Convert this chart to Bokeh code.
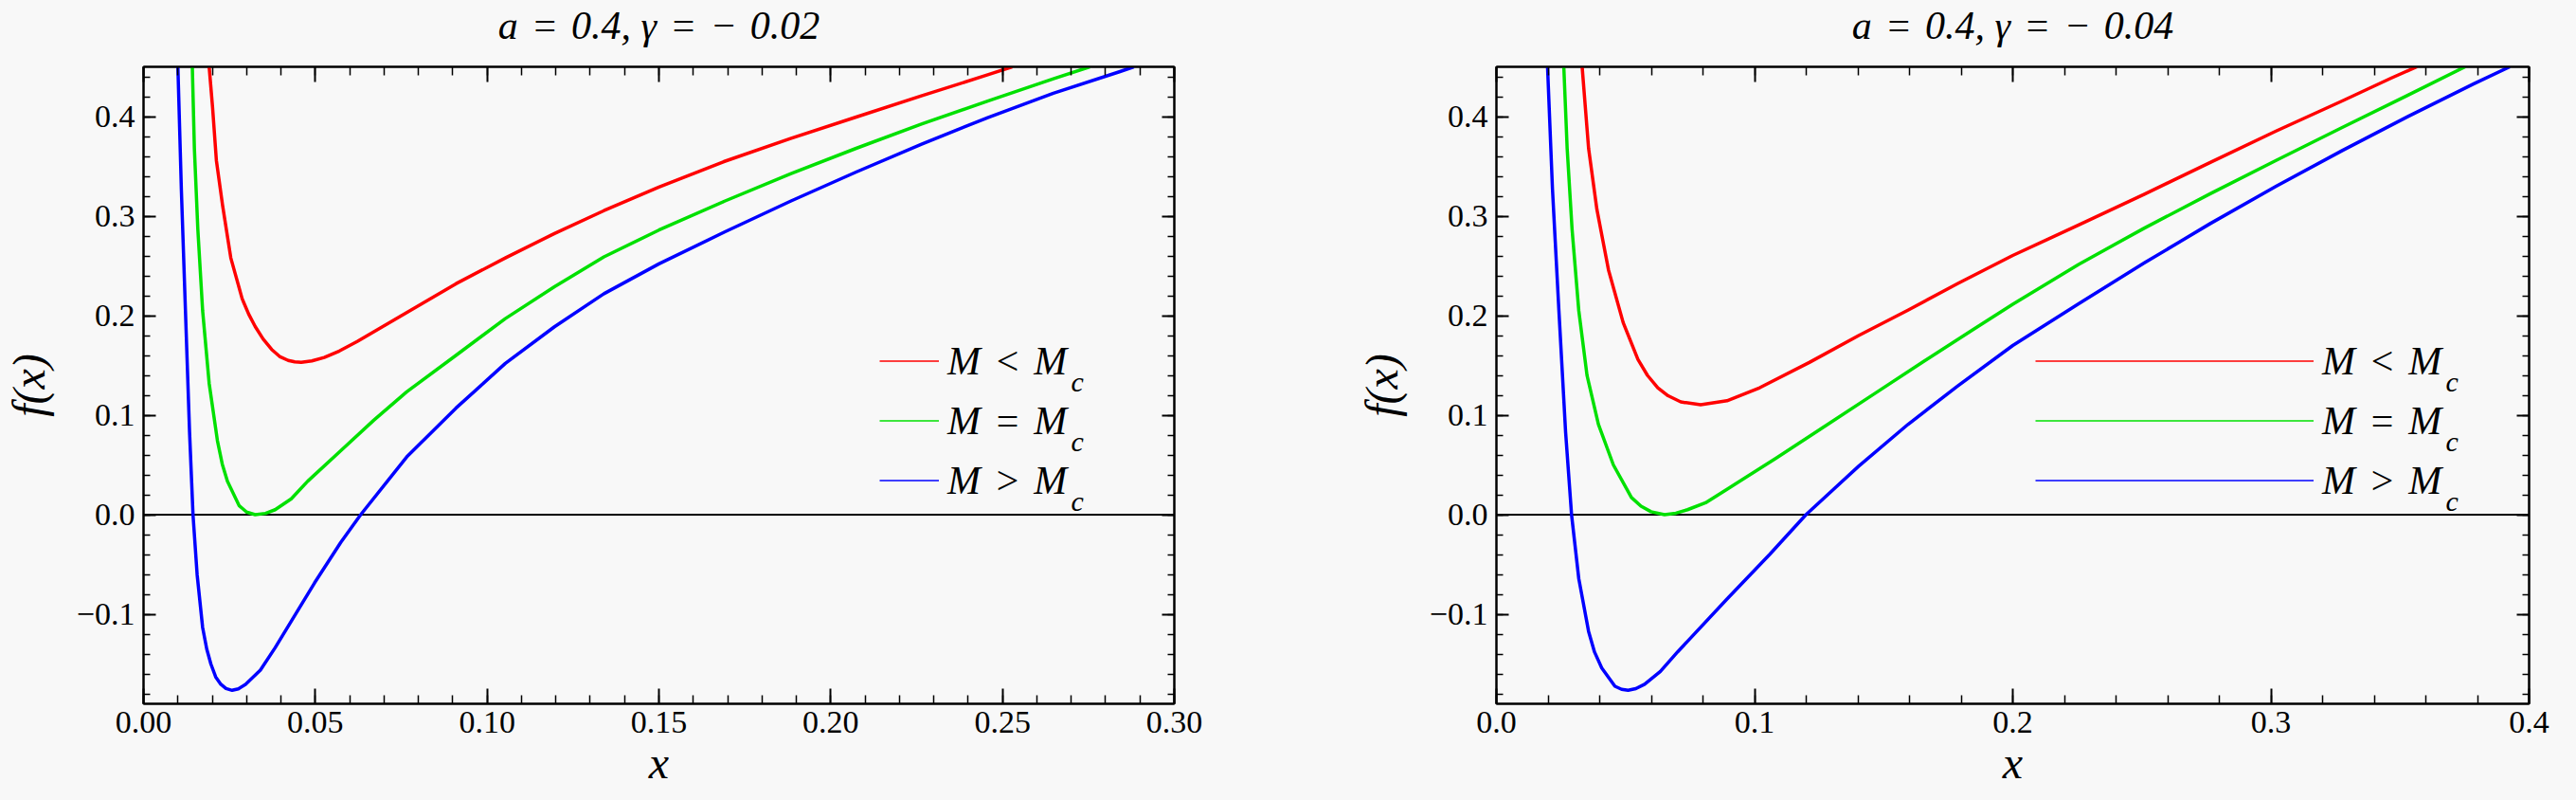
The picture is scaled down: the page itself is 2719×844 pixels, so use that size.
import math
from bokeh.plotting import figure
from bokeh.models import Range1d, FixedTicker, LinearAxis, Span, Label, Legend, LegendItem, PrintfTickFormatter
from bokeh.layouts import row
from bokeh.embed import file_html
from bokeh.resources import INLINE

# ---------------- data ----------------
titles = ["a\u2004=\u20040.4, γ\u2004=\u2004−\u20040.02",
          "a\u2004=\u20040.4, γ\u2004=\u2004−\u20040.04"]
x_axis_title = "x"
y_axis_title = "f(x)"
legend_labels = ["M\u2004<\u2004M", "M\u2004=\u2004M", "M\u2004>\u2004M"]
legend_subscript = "c"
series_colors = ["#ff0000", "#00e000", "#0000ff"]

# left panel: gamma = -0.02
x_red_1 = [0.0191, 0.0201, 0.0212, 0.0230, 0.0254, 0.0287, 0.0306, 0.0325, 0.0348, 0.0373,
           0.0396, 0.0421, 0.0440, 0.0459, 0.0490, 0.0526, 0.0570, 0.0622, 0.0766, 0.0909,
           0.1053, 0.1196, 0.1340, 0.1500, 0.1691, 0.1883, 0.2074, 0.2266, 0.2457, 0.2528]
y_red_1 = [0.450, 0.409, 0.356, 0.311, 0.258, 0.217, 0.2015, 0.189, 0.1765, 0.166,
           0.159, 0.155, 0.1535, 0.153, 0.1545, 0.158, 0.1645, 0.174, 0.203, 0.232,
           0.258, 0.2825, 0.3055, 0.3292, 0.3550, 0.3780, 0.3995, 0.4210, 0.4420, 0.450]
x_green_1 = [0.0142, 0.0148, 0.0158, 0.0172, 0.0191, 0.0215, 0.0229, 0.0244, 0.0278, 0.0300,
             0.0325, 0.0355, 0.0383, 0.0430, 0.0478, 0.0574, 0.0670, 0.0766, 0.0909, 0.1053,
             0.1196, 0.1340, 0.1500, 0.1691, 0.1883, 0.2074, 0.2266, 0.2457, 0.2648, 0.2754]
y_green_1 = [0.450, 0.368, 0.287, 0.205, 0.132, 0.0745, 0.051, 0.0337, 0.0092, 0.0026,
             0.000, 0.0013, 0.005, 0.016, 0.0337, 0.0643, 0.0949, 0.1235, 0.160, 0.197,
             0.229, 0.259, 0.2860, 0.3150, 0.3425, 0.3681, 0.3927, 0.4156, 0.4380, 0.450]
x_blue_1 = [0.0100, 0.0110, 0.0122, 0.0134, 0.0144, 0.0156, 0.0172, 0.0184, 0.0196, 0.0210,
            0.0225, 0.0240, 0.0258, 0.0276, 0.0297, 0.0340, 0.0383, 0.0498, 0.0574, 0.0632,
            0.0766, 0.0909, 0.1053, 0.1196, 0.1340, 0.1500, 0.1691, 0.1883, 0.2074, 0.2266,
            0.2457, 0.2648, 0.2840, 0.2882]
y_blue_1 = [0.450, 0.3276, 0.205, 0.0827, 0.000, -0.0602, -0.1133, -0.135, -0.150, -0.163,
            -0.1704, -0.1747, -0.1765, -0.1750, -0.1704, -0.1562, -0.1337, -0.0684, -0.0278, 0.000,
            0.058, 0.107, 0.152, 0.1888, 0.222, 0.2520, 0.2840, 0.3150, 0.3443, 0.3725,
            0.3990, 0.4235, 0.4450, 0.450]

# right panel: gamma = -0.04
x_red_2 = [0.0332, 0.0357, 0.0389, 0.0434, 0.0491, 0.0548, 0.0585, 0.0625, 0.0665, 0.0714,
           0.0791, 0.0893, 0.1020, 0.1212, 0.1403, 0.1594, 0.1786, 0.2000, 0.2255, 0.2510,
           0.2765, 0.3020, 0.3276, 0.3467, 0.3565]
y_red_2 = [0.450, 0.368, 0.307, 0.246, 0.193, 0.156, 0.140, 0.1276, 0.1195, 0.1133,
           0.1104, 0.1145, 0.1276, 0.153, 0.180, 0.2055, 0.2322, 0.2605, 0.2910, 0.3220,
           0.3540, 0.3855, 0.4157, 0.4388, 0.450]
x_green_2 = [0.0261, 0.0274, 0.0293, 0.0319, 0.0351, 0.0395, 0.0453, 0.0523, 0.0560, 0.0599,
             0.0651, 0.0695, 0.0740, 0.0810, 0.0893, 0.1084, 0.1276, 0.1467, 0.1658, 0.1849,
             0.2000, 0.2255, 0.2510, 0.2765, 0.3020, 0.3276, 0.3531, 0.3752]
y_green_2 = [0.450, 0.368, 0.2867, 0.205, 0.1398, 0.0908, 0.050, 0.0173, 0.0085, 0.003,
             0.000, 0.0015, 0.005, 0.012, 0.0255, 0.0570, 0.0895, 0.1220, 0.1545, 0.1865,
             0.2115, 0.2515, 0.2880, 0.3225, 0.3560, 0.3890, 0.4215, 0.450]
x_blue_2 = [0.0198, 0.0217, 0.0242, 0.0268, 0.0291, 0.0319, 0.0357, 0.0380, 0.0408, 0.0459,
            0.0485, 0.0510, 0.0540, 0.0574, 0.0635, 0.0702, 0.0893, 0.1059, 0.1199, 0.1403,
            0.1594, 0.1786, 0.2000, 0.2255, 0.2510, 0.2765, 0.3020, 0.3276, 0.3531, 0.3786,
            0.3925]
y_blue_2 = [0.450, 0.3276, 0.205, 0.0827, 0.000, -0.0643, -0.1173, -0.138, -0.154, -0.1724,
            -0.1755, -0.1765, -0.1748, -0.1704, -0.1575, -0.1378, -0.0847, -0.0398, 0.000, 0.0487,
            0.0907, 0.1291, 0.1700, 0.2120, 0.2530, 0.2925, 0.3300, 0.3658, 0.4001, 0.4330,
            0.450]

# axes
y_limits = (-0.19, 0.45)
y_major_ticks = [-0.1, 0.0, 0.1, 0.2, 0.3, 0.4]
y_tick_labels = ["−0.1", "0.0", "0.1", "0.2", "0.3", "0.4"]
y_minor_step = 0.02

x_limits_1 = (0.0, 0.30)
x_major_ticks_1 = [0.00, 0.05, 0.10, 0.15, 0.20, 0.25, 0.30]
x_tick_labels_1 = ["0.00", "0.05", "0.10", "0.15", "0.20", "0.25", "0.30"]
x_minor_step_1 = 0.01

x_limits_2 = (0.0, 0.40)
x_major_ticks_2 = [0.0, 0.1, 0.2, 0.3, 0.4]
x_tick_labels_2 = ["0.0", "0.1", "0.2", "0.3", "0.4"]
x_minor_step_2 = 0.02

# ---------------- styling ----------------
BG = "#f8f8f8"
FONT = "Liberation Serif"
FIG_H = 844


def minor_list(lo, hi, step):
    n0 = math.ceil(lo / step - 1e-9)
    n1 = math.floor(hi / step + 1e-9)
    return [round(i * step, 6) for i in range(n0, n1 + 1)]


def style_axis(ax, ticks, minors, labels, tick_in, minor_in, show_labels, standoff):
    ax.ticker = FixedTicker(ticks=ticks, minor_ticks=minors)
    ax.formatter = PrintfTickFormatter(format="%.2f")
    ax.axis_line_color = "black"
    ax.axis_line_width = 2
    ax.major_tick_line_color = "black"
    ax.major_tick_line_width = 2
    ax.minor_tick_line_color = "black"
    ax.minor_tick_line_width = 1.5
    ax.major_tick_in = tick_in
    ax.major_tick_out = 0
    ax.minor_tick_in = minor_in
    ax.minor_tick_out = 0
    ax.major_label_text_font = FONT
    if show_labels:
        ax.major_label_overrides = {t: l for t, l in zip(ticks, labels)}
        ax.major_label_text_color = "black"
        ax.major_label_text_font_size = "34px"
        ax.major_label_standoff = standoff
    else:
        ax.major_label_text_color = None
        ax.major_label_text_font_size = "0px"
        ax.major_label_standoff = 0


def axis_title(ax, text, size, standoff):
    ax.axis_label = text
    ax.axis_label_text_font = FONT
    ax.axis_label_text_font_style = "italic"
    ax.axis_label_text_font_size = size
    ax.axis_label_text_color = "black"
    ax.axis_label_standoff = standoff


def make_panel(title, xlim, xt, xl, xstep, series, width, left, right, legend_x, glyph_w, sub_dx):
    p = figure(width=width, height=FIG_H, x_range=Range1d(*xlim), y_range=Range1d(*y_limits),
               output_backend="svg", toolbar_location=None, title=None,
               min_border_left=left, min_border_right=right, min_border_top=69,
               min_border_bottom=FIG_H - 742,
               background_fill_color=BG, border_fill_color=BG,
               outline_line_color="black", outline_line_width=2)
    p.xgrid.grid_line_color = None
    p.ygrid.grid_line_color = None

    xminor = minor_list(xlim[0], xlim[1], xstep)
    yminor = minor_list(y_limits[0], y_limits[1], y_minor_step)

    bx = p.xaxis[0]
    style_axis(bx, xt, xminor, xl, 16, 9, True, 8)
    axis_title(bx, x_axis_title, "48px", 2)

    ly = p.yaxis[0]
    style_axis(ly, y_major_ticks, yminor, y_tick_labels, 13, 7, True, 9)
    axis_title(ly, y_axis_title, "48px", 21)

    # mirrored frame ticks; the top one carries the panel title
    top = LinearAxis()
    style_axis(top, xt, xminor, xl, 16, 9, False, 0)
    axis_title(top, title, "42px", 21)
    p.add_layout(top, "above")
    rgt = LinearAxis()
    style_axis(rgt, y_major_ticks, yminor, y_tick_labels, 13, 7, False, 0)
    p.add_layout(rgt, "right")

    zero = Span(location=0, dimension="width", line_color="black", line_width=2, level="underlay")
    p.add_layout(zero)

    # thin copies of the curves (hidden under the thick ones) give the legend its thin samples
    thin = [p.line(xs, ys, line_color=c, line_width=1.6) for (xs, ys), c in zip(series, series_colors)]
    for (xs, ys), c in zip(series, series_colors):
        p.line(xs, ys, line_color=c, line_width=3.5, line_join="round")

    legend = Legend(items=[LegendItem(label=l, renderers=[r]) for l, r in zip(legend_labels, thin)],
                    location=(legend_x, 204), orientation="vertical",
                    glyph_width=glyph_w, glyph_height=63, label_height=63, spacing=0,
                    padding=0, margin=0, label_standoff=9,
                    label_text_font=FONT, label_text_font_style="italic", label_text_font_size="42px",
                    label_text_color="black", border_line_color=None, background_fill_alpha=0)
    p.add_layout(legend)

    for i in range(3):
        p.add_layout(Label(x=xlim[0], y=y_limits[1], x_offset=sub_dx, y_offset=-(332 + 63.2 * i),
                           text=legend_subscript, text_font=FONT, text_font_style="italic",
                           text_font_size="30px", text_color="black",
                           text_align="left", text_baseline="alphabetic"))
    return p


p1 = make_panel(titles[0], x_limits_1, x_major_ticks_1, x_tick_labels_1, x_minor_step_1,
                [(x_red_1, y_red_1), (x_green_1, y_green_1), (x_blue_1, y_blue_1)],
                width=1308, left=149, right=69, legend_x=777, glyph_w=63, sub_dx=979)
p2 = make_panel(titles[1], x_limits_2, x_major_ticks_2, x_tick_labels_2, x_minor_step_2,
                [(x_red_2, y_red_2), (x_green_2, y_green_2), (x_blue_2, y_blue_2)],
                width=1411, left=271, right=50, legend_x=569, glyph_w=294, sub_dx=1002)

layout = row(p1, p2)
html = file_html(layout, INLINE, title="f(x)")
html = html.replace("</head>",
                    "<style>html,body{margin:0;padding:0;overflow:hidden;background:%s;}</style></head>" % BG, 1)
open("out.html", "w").write(html)
